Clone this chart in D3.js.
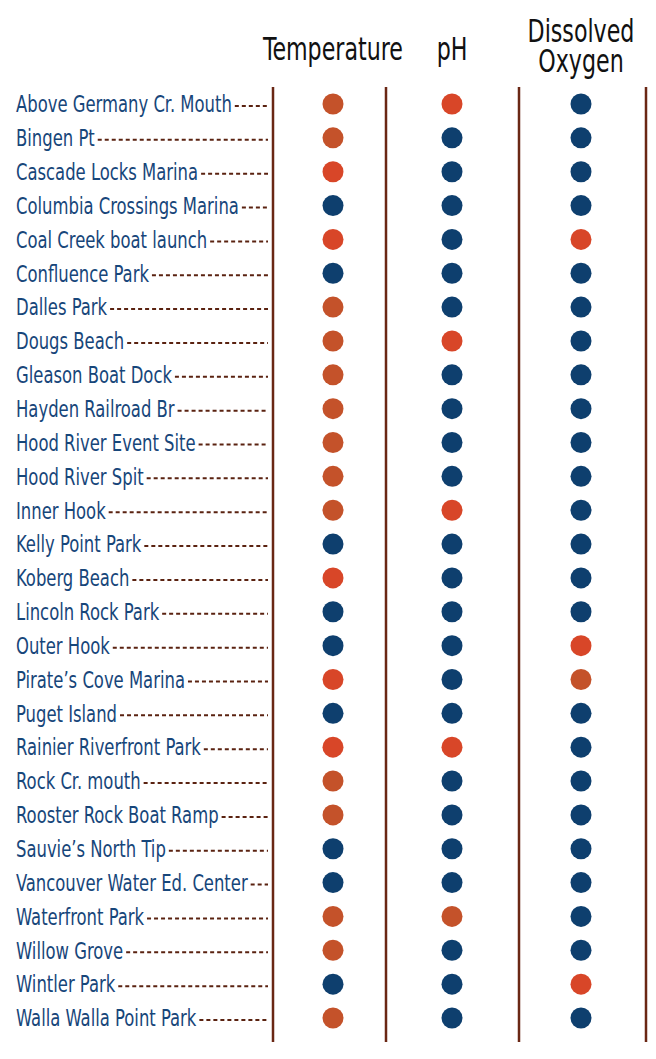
<!DOCTYPE html>
<html>
<head>
<meta charset="utf-8">
<script src="https://cdn.jsdelivr.net/npm/d3@7"></script>
<style>
  body { margin: 0; background: #fff; }
  text { font-family: "DejaVu Sans Condensed", "DejaVu Sans", sans-serif; font-stretch: condensed; }
</style>
</head>
<body>
<script>
// sites, top to bottom
var sites = [
  "Above Germany Cr. Mouth", "Bingen Pt", "Cascade Locks Marina", "Columbia Crossings Marina",
  "Coal Creek boat launch", "Confluence Park", "Dalles Park", "Dougs Beach",
  "Gleason Boat Dock", "Hayden Railroad Br", "Hood River Event Site", "Hood River Spit",
  "Inner Hook", "Kelly Point Park", "Koberg Beach", "Lincoln Rock Park",
  "Outer Hook", "Pirate’s Cove Marina", "Puget Island", "Rainier Riverfront Park",
  "Rock Cr. mouth", "Rooster Rock Boat Ramp", "Sauvie’s North Tip", "Vancouver Water Ed. Center",
  "Waterfront Park", "Willow Grove", "Wintler Park", "Walla Walla Point Park"
];

var measures = ["Temperature", "pH", "Dissolved Oxygen"];

// status per site: G = good, F = fair, P = poor
var temperature = ["F","F","P","G","P","G","F","F","F","F","F","F","F","G",
                   "P","G","G","P","G","P","F","F","G","G","F","F","G","F"];
var ph          = ["P","G","G","G","G","G","G","P","G","G","G","G","P","G",
                   "G","G","G","G","G","P","G","G","G","G","F","G","G","G"];
var oxygen      = ["G","G","G","G","P","G","G","G","G","G","G","G","G","G",
                   "G","G","P","F","G","G","G","G","G","G","G","G","P","G"];

var statusColor = { G: "#0e3f6e", F: "#c4522a", P: "#d84628" };

var svgWidth = 656, svgHeight = 1059;

var svg = d3.select("body").append("svg")
  .attr("width", svgWidth)
  .attr("height", svgHeight);

var y = d3.scalePoint().domain(sites).range([104, 1018]);
var x = d3.scaleOrdinal().domain(measures).range([333, 452, 581]);

var dividers = [273, 386, 519, 646];

// no condensed web font here, so squeeze text horizontally to the reference width
function squeeze(fontSize, sample, targetWidth) {
  var t = svg.append("text").attr("font-size", fontSize).text(sample);
  var w = t.node().getComputedTextLength();
  t.remove();
  return Math.min(1, targetWidth / w);
}

// column headers
var hk = squeeze(32, "Temperature", 140);
var headers = svg.append("g");
function header(cx, lines, y0) {
  var t = headers.append("text")
    .attr("transform", `translate(${cx},0) scale(${hk},1)`)
    .attr("text-anchor", "middle")
    .attr("font-size", 32)
    .attr("fill", "#111");
  lines.forEach(function (s, i) {
    t.append("tspan").attr("x", 0).attr("y", y0 + i * 30).text(s);
  });
}
header(x("Temperature"), ["Temperature"], 60);
header(x("pH"), ["pH"], 60);
header(x("Dissolved Oxygen"), ["Dissolved", "Oxygen"], 42);

// vertical rules
svg.selectAll("line.rule")
  .data(dividers)
  .enter().append("line")
  .attr("class", "rule")
  .attr("x1", d => d).attr("x2", d => d)
  .attr("y1", 87).attr("y2", 1042)
  .attr("stroke", "#6a2714")
  .attr("stroke-width", 2.5);

// row labels + dashed leaders
var lk = squeeze(23, sites[0], 216);
var rows = svg.selectAll("g.row")
  .data(sites)
  .enter().append("g")
  .attr("class", "row")
  .attr("transform", d => `translate(0, ${y(d)})`);

rows.append("text")
  .attr("transform", `translate(16,0) scale(${lk},1)`)
  .attr("dy", "0.36em")
  .attr("font-size", 23)
  .attr("fill", "#17467a")
  .text(d => d)
  .each(function () {
    var w = this.getComputedTextLength() * lk;
    d3.select(this.parentNode).append("line")
      .attr("x1", 16 + w + 3).attr("x2", 268)
      .attr("y1", 2).attr("y2", 2)
      .attr("stroke", "#5a2210")
      .attr("stroke-width", 2)
      .attr("stroke-dasharray", "4,3");
  });

// dots
var columns = [temperature, ph, oxygen];
columns.forEach(function (vals, j) {
  svg.append("g").selectAll("circle")
    .data(vals)
    .enter().append("circle")
    .attr("cx", x(measures[j]))
    .attr("cy", (d, i) => y(sites[i]))
    .attr("r", 10.5)
    .attr("fill", d => statusColor[d]);
});
</script>
</body>
</html>
